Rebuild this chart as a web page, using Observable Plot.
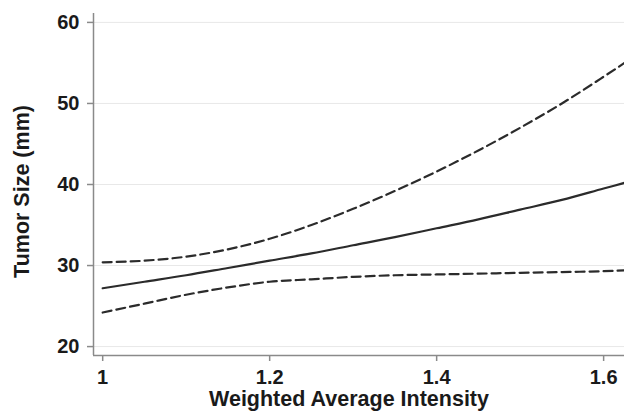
<!DOCTYPE html>
<html>
<head>
<meta charset="utf-8">
<script src="https://cdn.jsdelivr.net/npm/d3@7"></script>
<script src="https://cdn.jsdelivr.net/npm/@observablehq/plot@0.6"></script>
<style>
  html, body { margin: 0; padding: 0; background: #fff; }
  svg { display: block; }
</style>
</head>
<body>
<div id="chart"></div>
<script>
const intensity = [1.0, 1.05, 1.1, 1.15, 1.2, 1.25, 1.3, 1.35, 1.4, 1.45, 1.5, 1.55, 1.6, 1.625];
const fitSize   = [27.2, 28.0, 28.8, 29.7, 30.6, 31.5, 32.5, 33.5, 34.6, 35.7, 36.9, 38.1, 39.5, 40.2];
const upperCI   = [30.4, 30.6, 31.1, 32.0, 33.3, 35.0, 37.0, 39.2, 41.6, 44.2, 47.0, 50.0, 53.3, 55.0];
const lowerCI   = [24.2, 25.3, 26.4, 27.3, 28.0, 28.3, 28.6, 28.8, 28.9, 29.0, 29.1, 29.2, 29.3, 29.4];
const xTicks = [1, 1.2, 1.4, 1.6];
const yTicks = [20, 30, 40, 50, 60];
const xTitle = "Weighted Average Intensity";
const yTitle = "Tumor Size (mm)";

const rows = intensity.map((x, i) => ({x, fit: fitSize[i], up: upperCI[i], lo: lowerCI[i]}));
const font = "'Liberation Sans', Arial, Helvetica, sans-serif";
const axisColor = "#8a8a8a";
const ink = "#2b2b2b";

const chart = Plot.plot({
  width: 624,
  height: 417,
  marginLeft: 93,
  marginRight: 0,
  marginTop: 13,
  marginBottom: 62,
  style: {fontFamily: font, background: "#fff"},
  x: {domain: [0.989, 1.625]},
  y: {domain: [18.9, 61.1]},
  marks: [
    Plot.gridY(yTicks, {stroke: "#e8e8e8", strokeOpacity: 1, strokeWidth: 1}),
    Plot.axisX(xTicks, {
      tickSize: 6, tickPadding: 8, stroke: axisColor, strokeWidth: 1.5,
      fill: "#1a1a1a", fontSize: 20, fontWeight: "bold", label: null,
      tickFormat: d => String(d)
    }),
    Plot.axisY(yTicks, {
      tickSize: 6, tickPadding: 8, stroke: axisColor, strokeWidth: 1.5,
      fill: "#1a1a1a", fontSize: 20, fontWeight: "bold", label: null
    }),
    Plot.ruleX([0.989], {stroke: axisColor, strokeWidth: 1.5}),
    Plot.ruleY([18.9], {stroke: axisColor, strokeWidth: 1.5}),
    Plot.line(rows, {x: "x", y: "up", stroke: ink, strokeWidth: 2.2, strokeDasharray: "9,5", curve: "monotone-x"}),
    Plot.line(rows, {x: "x", y: "lo", stroke: ink, strokeWidth: 2.2, strokeDasharray: "9,5", curve: "monotone-x"}),
    Plot.line(rows, {x: "x", y: "fit", stroke: ink, strokeWidth: 2.2, curve: "monotone-x"}),
    Plot.text([xTitle], {frameAnchor: "bottom", dx: -10, dy: 44, lineAnchor: "middle",
      fontSize: 21.5, fontWeight: "bold", fill: "#1a1a1a"}),
    Plot.text([yTitle], {frameAnchor: "left", dx: -71, dy: 7, rotate: -90, textAnchor: "middle",
      fontSize: 21.5, fontWeight: "bold", fill: "#1a1a1a"})
  ]
});
document.getElementById("chart").appendChild(chart);
</script>
</body>
</html>
